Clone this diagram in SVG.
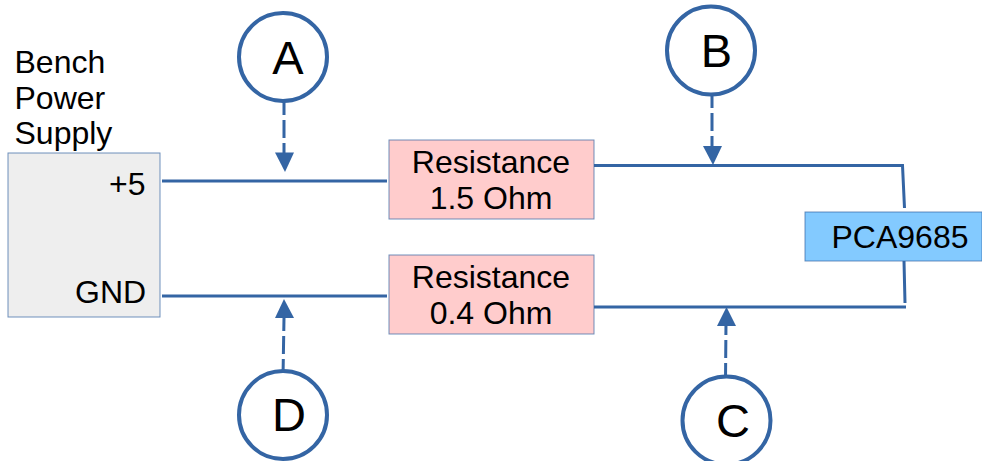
<svg xmlns="http://www.w3.org/2000/svg" width="982" height="461" viewBox="0 0 982 461">
<style>
text{font-family:"Liberation Sans",Arial,sans-serif;fill:#000}
.l{font-size:32px}
.c{font-size:32px;text-anchor:middle}
.big{font-size:47px;text-anchor:middle}
.w{fill:none;stroke:#3465a4;stroke-width:3}
.d{fill:none;stroke:#3465a4;stroke-width:3;stroke-dasharray:18 5}
.h{fill:#3465a4}
.o{fill:#fff;stroke:#3465a4;stroke-width:4}
.r{fill:#ffcccc;stroke:#3465a4;stroke-width:1;stroke-opacity:.7}
</style>
<rect width="982" height="461" fill="#fff"/>
<g id="connectors">
<path class="w" d="M162 181H387M162 296H387M594 165.500H902.500L904.500 208M904 261L905 303M594 307H906"/>
<path class="d" d="M284 97L284 154"/><polygon class="h" points="275,152.500 294,152.500 285,172"/>
<path class="d" d="M712 90L712 147"/><polygon class="h" points="703,146 722,146 713,165"/>
<path class="d" d="M283 377L284 318"/><polygon class="h" points="275,318 294,318 284,299"/>
<path class="d" d="M725.500 381L726 322"/><polygon class="h" points="717,326 736,326 726.500,307"/>
</g>
<g id="psu"><rect x="8" y="153" width="152" height="164" fill="#eeeeee" stroke="#3465a4" stroke-opacity=".7"/>
<text class="l" x="14.500" y="73">Bench</text><text class="l" x="14.500" y="109">Power</text><text class="l" x="14.500" y="144">Supply</text>
<text class="l" x="109" y="195">+5</text><text class="l" x="75" y="303">GND</text></g>
<g id="r1"><rect class="r" x="389" y="140" width="205" height="79"/><text class="c" x="491" y="173">Resistance</text><text class="c" x="491" y="209">1.5 Ohm</text></g>
<g id="r2"><rect class="r" x="389" y="255" width="205" height="79"/><text class="c" x="491" y="288">Resistance</text><text class="c" x="491" y="324">0.4 Ohm</text></g>
<g id="pca"><rect x="805" y="212" width="177" height="49" fill="#83caff" stroke="#3465a4" stroke-opacity=".7"/><text class="c" x="900" y="248">PCA9685</text></g>
<g id="a"><circle class="o" cx="283" cy="57" r="44"/><text class="big" x="288" y="74">A</text></g>
<g id="b"><circle class="o" cx="711" cy="50.500" r="44"/><text class="big" x="716.500" y="67">B</text></g>
<g id="d"><circle class="o" cx="283" cy="415" r="44"/><text class="big" x="289" y="431">D</text></g>
<g id="c"><circle class="o" cx="726.500" cy="420.500" r="44"/><text class="big" x="733" y="437">C</text></g>
</svg>
